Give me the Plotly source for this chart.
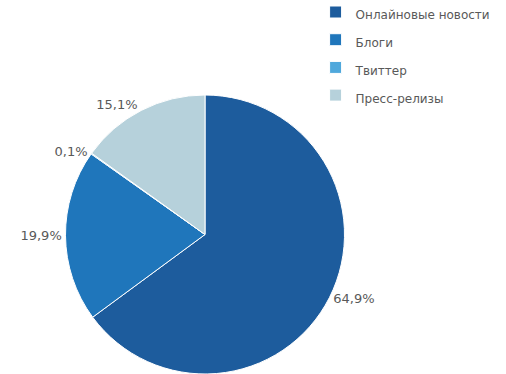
import plotly.graph_objects as go

categories = ["Онлайновые новости", "Блоги", "Твиттер", "Пресс-релизы"]
values = [64.9, 19.9, 0.1, 15.1]
colors = ["#1d5c9d", "#1f76bb", "#4fa8dc", "#b6d1db"]

text_labels = [f"{v:.1f}%".replace(".", ",") for v in values]
legend_labels = [f"<span style='font-size:12px'>{c}</span>" for c in categories]

fig = go.Figure(go.Pie(
    labels=legend_labels,
    values=values,
    text=text_labels,
    textinfo="text",
    textposition="outside",
    textfont=dict(family="DejaVu Sans", size=13, color="#595959"),
    marker=dict(colors=colors, line=dict(color="white", width=1)),
    sort=False,
    direction="clockwise",
    rotation=0,
    hole=0,
    domain=dict(x=[0, 1], y=[0, 1]),
    hovertemplate="%{label}: %{text}<extra></extra>",
))

fig.update_layout(
    width=506, height=374,
    margin=dict(l=65, r=161, t=95, b=0, autoexpand=False),
    paper_bgcolor="white",
    plot_bgcolor="white",
    showlegend=True,
    legend=dict(
        x=0.895, xanchor="left",
        y=1.365, yanchor="top",
        font=dict(family="DejaVu Sans", size=19, color="#595959"),
        bgcolor="rgba(0,0,0,0)",
    ),
)

fig.write_html(
    "out.html",
    config={"displayModeBar": False},
    post_script="document.body.style.margin='0';",
)
